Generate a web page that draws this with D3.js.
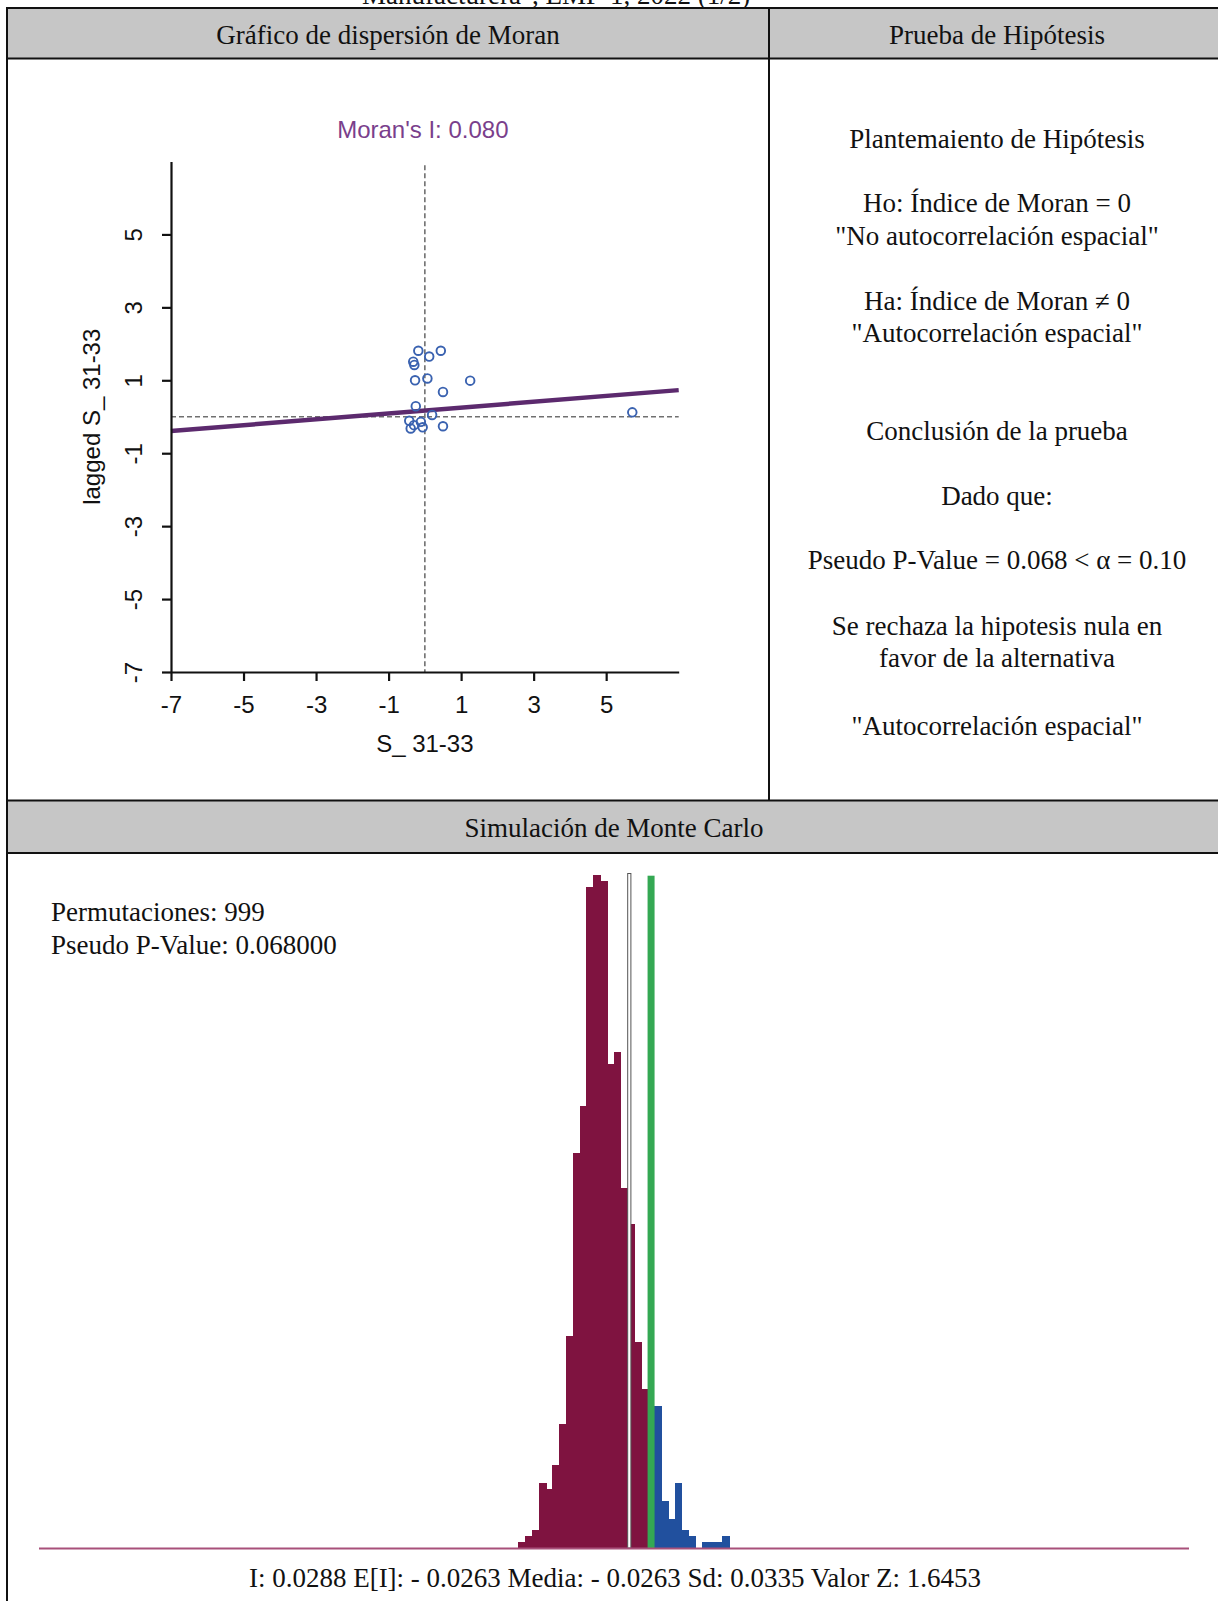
<!DOCTYPE html>
<html>
<head>
<meta charset="utf-8">
<script src="https://cdn.jsdelivr.net/npm/d3@7"></script>
<style>
  html, body { margin: 0; padding: 0; background: #ffffff; }
  svg { display: block; }
</style>
</head>
<body>
<div id="chart"></div>
<script>
// ---------------- DATA ----------------
const pageTitle = 'Manufacturera", EMP-1, 2022 (1/2)';
const headerLeft = "Gráfico de dispersión de Moran";
const headerRight = "Prueba de Hipótesis";
const headerBottom = "Simulación de Monte Carlo";

// Moran scatter plot
const scatterTitle = "Moran's I: 0.080";
const xAxisLabel = "S_ 31-33";
const yAxisLabel = "lagged S_ 31-33";
const xTickValues = [-7, -5, -3, -1, 1, 3, 5];
const yTickValues = [-7, -5, -3, -1, 1, 3, 5];
const axisDomain = [-7, 7];
const scatterX = [-0.18, 0.12, 0.44, -0.32, -0.29, -0.27, 0.07, 1.25, 0.50, -0.25, -0.43, -0.30, -0.11, -0.39, -0.06, 0.20, 0.50, 5.72];
const scatterY = [1.81, 1.65, 1.81, 1.51, 1.42, 1.00, 1.05, 0.99, 0.68, 0.29, -0.11, -0.23, -0.14, -0.32, -0.29, 0.05, -0.26, 0.12];
const moranSlope = 0.080;
const moranIntercept = 0.17;

// Hypothesis text
const hypothesisLines = [
  "Plantemaiento de Hipótesis",
  "Ho: Índice de Moran = 0",
  "\"No autocorrelación espacial\"",
  "Ha: Índice de Moran ≠ 0",
  "\"Autocorrelación espacial\"",
  "Conclusión de la prueba",
  "Dado que:",
  "Pseudo P-Value = 0.068 < α = 0.10",
  "Se rechaza la hipotesis nula en",
  "favor de la alternativa",
  "\"Autocorrelación espacial\""
];

// Monte Carlo histogram
const permText = "Permutaciones: 999";
const pValueText = "Pseudo P-Value: 0.068000";
const statsText = "I: 0.0288 E[I]: - 0.0263 Media: - 0.0263 Sd: 0.0335 Valor Z: 1.6453";
const histBinStart = -0.307;
const histBinWidth = 0.0172;
const histCounts = [1, 2, 3, 11, 10, 14, 21, 36, 67, 75, 112, 114, 113, 82, 84, 61, 55, 35, 27, 22, 24, 8, 5, 11, 3, 2, 0, 1, 1, 1, 2];
const expectedI = -0.0263;
const observedI = 0.0288;
const histDomain = [-1.52, 1.39];

// ---------------- DRAWING ----------------
const W = 1218, H = 1601;
const SERIF = "'Liberation Serif', 'Times New Roman', serif";
const SANS = "'Liberation Sans', Arial, sans-serif";

const svg = d3.select("#chart").append("svg")
  .attr("width", W).attr("height", H)
  .attr("viewBox", `0 0 ${W} ${H}`);

// Page title (partly above the top edge, as in the source)
svg.append("text").attr("x", 362).attr("y", 4)
  .attr("font-family", SERIF).attr("font-size", 27).attr("fill", "#111")
  .text(pageTitle);

// Table structure
svg.append("rect").attr("x", 8).attr("y", 9).attr("width", W).attr("height", 49).attr("fill", "#c6c6c6");
svg.append("rect").attr("x", 8).attr("y", 801).attr("width", W).attr("height", 52).attr("fill", "#c6c6c6");
const lineStyle = sel => sel.attr("stroke", "#111").attr("stroke-width", 2);
svg.append("line").attr("x1", 6).attr("x2", W).attr("y1", 8).attr("y2", 8).call(lineStyle);
svg.append("line").attr("x1", 6).attr("x2", W).attr("y1", 58.5).attr("y2", 58.5).call(lineStyle);
svg.append("line").attr("x1", 6).attr("x2", W).attr("y1", 800.5).attr("y2", 800.5).call(lineStyle);
svg.append("line").attr("x1", 6).attr("x2", W).attr("y1", 853).attr("y2", 853).call(lineStyle);
svg.append("line").attr("x1", 7).attr("x2", 7).attr("y1", 7).attr("y2", H).call(lineStyle);
svg.append("line").attr("x1", 769).attr("x2", 769).attr("y1", 8).attr("y2", 800).call(lineStyle);

const hdr = (txt, x, y) => svg.append("text").attr("x", x).attr("y", y)
  .attr("text-anchor", "middle").attr("font-family", SERIF).attr("font-size", 27).attr("fill", "#111").text(txt);
hdr(headerLeft, 388, 44);
hdr(headerRight, 997, 44);
hdr(headerBottom, 614, 837);

// ---------- Moran scatter ----------
const xS = d3.scaleLinear().domain(axisDomain).range([171, 678.7]);
const yS = d3.scaleLinear().domain(axisDomain).range([672, 161.5]);
const sc = svg.append("g");
const fmtTick = d => String(d);

// title
sc.append("text").attr("x", xS(0) - 2).attr("y", 138)
  .attr("text-anchor", "middle").attr("font-family", SANS).attr("font-size", 24)
  .attr("fill", "#7a3f8c").text(scatterTitle);

// dashed reference lines
sc.append("line").attr("x1", xS(0)).attr("x2", xS(0)).attr("y1", yS(6.9)).attr("y2", yS(-7))
  .attr("stroke", "#707070").attr("stroke-width", 1.6).attr("stroke-dasharray", "5,3");
sc.append("line").attr("x1", xS(-7)).attr("x2", xS(7)).attr("y1", yS(0)).attr("y2", yS(0))
  .attr("stroke", "#707070").attr("stroke-width", 1.6).attr("stroke-dasharray", "5,3");

// regression line
sc.append("line")
  .attr("x1", xS(-7)).attr("y1", yS(moranIntercept + moranSlope * -7))
  .attr("x2", xS(7)).attr("y2", yS(moranIntercept + moranSlope * 7))
  .attr("stroke", "#5c2a6e").attr("stroke-width", 4.5);

// points
sc.append("g").selectAll("circle").data(scatterX.map((x, i) => [x, scatterY[i]]))
  .join("circle")
  .attr("cx", d => xS(d[0])).attr("cy", d => yS(d[1])).attr("r", 4.3)
  .attr("fill", "none").attr("stroke", "#3a62b0").attr("stroke-width", 1.9);

// axes
const xAxis = sc.append("g").attr("transform", `translate(0,${yS(-7)})`)
  .call(d3.axisBottom(xS).tickValues(xTickValues).tickSize(9).tickSizeOuter(0).tickFormat(fmtTick));
xAxis.selectAll("text").attr("y", 41).attr("dy", 0)
  .attr("font-family", SANS).attr("font-size", 24).attr("fill", "#111");
const yAxis = sc.append("g").attr("transform", `translate(${xS(-7)},0)`)
  .call(d3.axisLeft(yS).tickValues(yTickValues).tickSize(9).tickSizeOuter(0).tickFormat(fmtTick));
yAxis.selectAll("text").attr("x", 0).attr("y", -29).attr("dy", 0)
  .attr("transform", "rotate(-90)").attr("text-anchor", "middle")
  .attr("font-family", SANS).attr("font-size", 24).attr("fill", "#111");
[xAxis, yAxis].forEach(a => {
  a.select(".domain").attr("stroke", "#111").attr("stroke-width", 2.2);
  a.selectAll(".tick line").attr("stroke", "#111").attr("stroke-width", 2.2);
});

sc.append("text").attr("x", xS(0)).attr("y", 752)
  .attr("text-anchor", "middle").attr("font-family", SANS).attr("font-size", 24).attr("fill", "#111")
  .text(xAxisLabel);
sc.append("text").attr("transform", `translate(100,${(yS(7) + yS(-7)) / 2}) rotate(-90)`)
  .attr("text-anchor", "middle").attr("font-family", SANS).attr("font-size", 24).attr("fill", "#111")
  .text(yAxisLabel);

// ---------- Hypothesis text ----------
const hypBaselines = [148, 212, 245, 310, 342, 440, 505, 569, 635, 667, 735];
svg.append("g").selectAll("text").data(hypothesisLines).join("text")
  .attr("x", 997).attr("y", (d, i) => hypBaselines[i])
  .attr("text-anchor", "middle").attr("font-family", SERIF).attr("font-size", 27).attr("fill", "#111")
  .text(d => d);

// ---------- Monte Carlo histogram ----------
const xH = d3.scaleLinear().domain(histDomain).range([39, 1189]);
const yH = d3.scaleLinear().domain([0, 114]).range([1548, 1548 - 114 * 5.9]);
const bw = xH(histBinWidth) - xH(0);
const hg = svg.append("g");

const bins = histCounts.map((c, i) => ({ x0: histBinStart + i * histBinWidth, c }));
hg.selectAll("rect.bar").data(bins).join("rect").attr("class", "bar")
  .attr("x", d => Math.round(xH(d.x0)))
  .attr("width", d => Math.round(xH(d.x0 + histBinWidth)) - Math.round(xH(d.x0)) + 0.6)
  .attr("y", d => yH(d.c)).attr("height", d => yH(0) - yH(d.c))
  .attr("shape-rendering", "crispEdges")
  .attr("fill", d => d.x0 >= observedI ? "#21509e" : "#7f1340");

// expected I line (outlined)
hg.append("rect").attr("x", xH(expectedI) - 1.6).attr("width", 3.2)
  .attr("y", 873.5).attr("height", yH(0) - 873.5)
  .attr("fill", "#ffffff").attr("stroke", "#555").attr("stroke-width", 1);
// observed I line
hg.append("rect").attr("x", xH(observedI) - 3.5).attr("width", 7)
  .attr("y", 875.7).attr("height", yH(0) - 875.7).attr("fill", "#34a853");

// baseline
hg.append("line").attr("x1", xH(histDomain[0])).attr("x2", xH(histDomain[1]))
  .attr("y1", yH(0) + 0.5).attr("y2", yH(0) + 0.5)
  .attr("stroke", "#a8507a").attr("stroke-width", 2);

const mc = (txt, x, y, anchor) => svg.append("text").attr("x", x).attr("y", y)
  .attr("text-anchor", anchor).attr("font-family", SERIF).attr("font-size", 27).attr("fill", "#111").text(txt);
mc(permText, 51, 921, "start");
mc(pValueText, 51, 954, "start");
mc(statsText, 615, 1587, "middle");
</script>
</body>
</html>
